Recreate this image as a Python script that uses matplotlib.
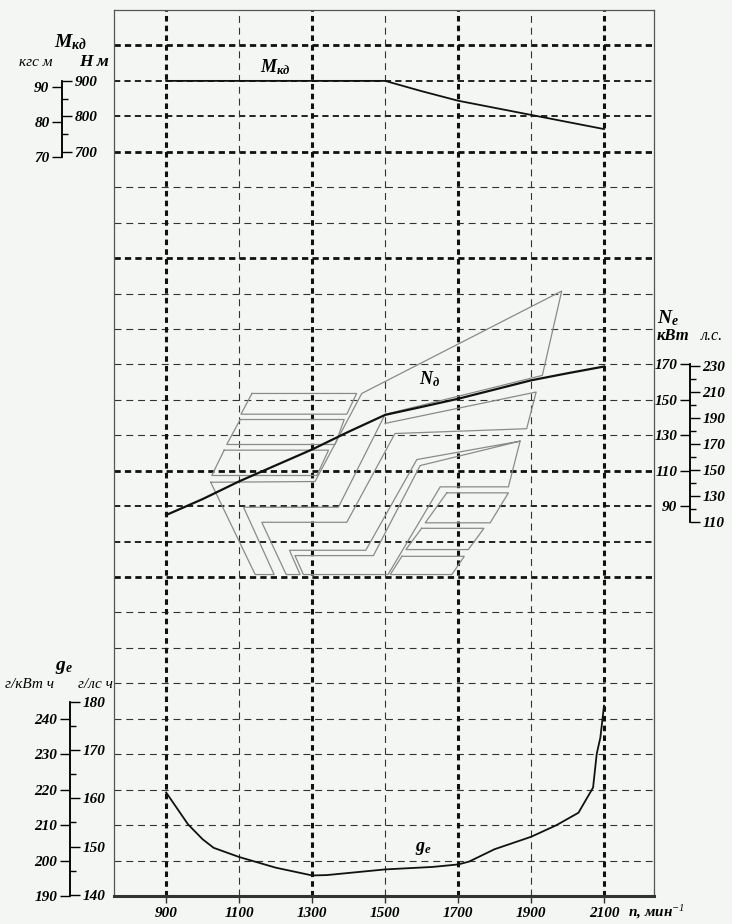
import numpy as np
import matplotlib
matplotlib.use('Agg')
import matplotlib.pyplot as plt

plt.rcParams['font.family'] = ['Liberation Serif', 'DejaVu Serif']
plt.rcParams['mathtext.fontset'] = 'custom'
plt.rcParams['mathtext.it'] = 'Liberation Serif:italic:bold'
plt.rcParams['mathtext.rm'] = 'Liberation Serif:italic'
plt.rcParams['mathtext.bf'] = 'Liberation Serif:italic:bold'
plt.rcParams['mathtext.default'] = 'it'
plt.rcParams['lines.scale_dashes'] = False

BG = '#f3f6f3'

# частота вращения, мин-1
rpm_ticks = [900, 1100, 1300, 1500, 1700, 1900, 2100]

# крутящий момент, Н м
rpm_m = [900, 1100, 1300, 1500, 1600, 1700, 1800, 1900, 2000, 2100]
m_kd = [900, 900, 900, 900, 871, 844, 824, 804, 784, 764]

# мощность, кВт
rpm_n = [900, 1000, 1100, 1200, 1300, 1400, 1500, 1600, 1700, 1800, 1900, 2000, 2100]
n_d = [85, 94, 104, 113, 122, 132, 141.5, 146, 150.6, 155.8, 161, 165, 168.8]

# удельный расход топлива, г/кВт ч
rpm_g = [900, 960, 1000, 1030, 1100, 1200, 1300, 1340, 1410, 1500, 1630, 1700,
         1730, 1800, 1900, 1970, 2030, 2070, 2080, 2090, 2100]
g_e = [219.2, 210.2, 206, 203.6, 201, 198, 195.8, 195.9, 196.6, 197.5, 198.2, 198.9,
       199.7, 203.2, 206.7, 210, 213.5, 220.6, 230.1, 234.7, 243.7]

# шкалы
m_nm_ticks = [700, 800, 900]
m_kgs_ticks = [70, 80, 90]
n_kw_ticks = [90, 110, 130, 150, 170]
n_hp_ticks = [110, 130, 150, 170, 190, 210, 230]
g_kw_ticks = [190, 200, 210, 220, 230, 240]
g_hp_ticks = [140, 150, 160, 170, 180]

# эмблема (в координатах мин-1 / кВт)
logo_closed = [
    [(1135, 153.6), (1422, 153.6), (1395, 141.9), (1105, 141.9)],
    [(1103, 138.9), (1388, 138.9), (1363, 124.8), (1066, 124.8)],
    [(1059, 121.6), (1345, 121.6), (1313, 107.3), (1025, 107.3)],
    [(1669, 97.5), (1838, 97.5), (1788, 80.6), (1610, 80.6)],
    [(1600, 77.5), (1771, 77.5), (1728, 65.5), (1557, 65.5)],
    [(1546, 61.7), (1717, 61.7), (1683, 51.4), (1514, 51.4)],
    [(1022, 103.5), (1308, 103.9), (1436, 153.6), (1984, 211.4), (1931, 163.8),
     (1500, 141.8), (1372, 89.4), (1112, 89.4), (1196, 51.4), (1144, 51.4)],
]
logo_open = [
    [(1500, 136.7), (1914, 154.4), (1888, 133.7), (1527, 131), (1395, 80.9),
     (1162, 80.9), (1229, 51.4), (1267, 51.4), (1238, 65.1), (1447, 65.1),
     (1587, 116.3), (1870, 126.7), (1838, 100.9), (1651, 100.9), (1508, 51.4),
     (1276, 51.4), (1253, 62.1), (1468, 62.1), (1596, 112.9), (1870, 126.7)],
]

KGS = 9.80665
HP = 1.35962

W, H = 732, 924
fig = plt.figure(figsize=(W / 100, H / 100), dpi=100, facecolor=BG)
L, R, B, T = 114 / W, 654 / W, 28 / H, 1 - 10 / H
ax = fig.add_axes([L, B, R - L, T - B], facecolor=BG)
ax.set_xlim(757, 2237)
ax.set_ylim(0, 25)

heavy = {24, 21, 18, 12, 9}
medium = {23, 22, 11, 10}
for k in range(1, 25):
    if k in heavy:
        ax.axhline(k, color='#111', lw=2.0, dashes=(4.5, 3.0), zorder=1)
    elif k in medium:
        ax.axhline(k, color='#222', lw=1.4, dashes=(4.5, 3.0), zorder=1)
    else:
        ax.axhline(k, color='#333', lw=0.8, dashes=(5, 3.5), zorder=1)
for i, r in enumerate(rpm_ticks):
    if i % 2 == 0:
        ax.axvline(r, color='#111', lw=2.2, dashes=(4.0, 3.0), zorder=1)
    else:
        ax.axvline(r, color='#333', lw=0.8, dashes=(5, 3.5), zorder=1)

for s in ['left', 'top', 'right']:
    ax.spines[s].set_color('#555')
    ax.spines[s].set_linewidth(0.9)
ax.spines['bottom'].set_color('#333')
ax.spines['bottom'].set_linewidth(2.2)
ax.set_yticks([])
ax.set_xticks(rpm_ticks)
ax.set_xticklabels([str(v) for v in rpm_ticks], fontsize=11,
                   fontstyle='italic', fontweight='bold')
ax.tick_params(axis='x', length=5, width=1.0, color='#333', pad=3)
fig.text(628 / W, 1 - 912 / H, r'$n$, мин$^{-1}$', fontsize=11, fontstyle='italic',
         fontweight='bold', va='center', ha='left')


def overlay(ylim):
    a = ax.twinx()
    a.set_ylim(*ylim)
    a.set_yticks([])
    for s in a.spines.values():
        s.set_visible(False)
    return a


axM = overlay((-1400, 1100))
axN = overlay((-130, 370))
axG = overlay((190, 440))

for poly in logo_closed:
    xs = [p[0] for p in poly] + [poly[0][0]]
    ys = [p[1] for p in poly] + [poly[0][1]]
    axN.plot(xs, ys, color='#8a8a8a', lw=0.9, zorder=2)
for poly in logo_open:
    axN.plot([p[0] for p in poly], [p[1] for p in poly], color='#8a8a8a', lw=0.9, zorder=2)

axM.plot(rpm_m, m_kd, color='#111', lw=1.3, zorder=3)
axN.plot(rpm_n, n_d, color='#111', lw=1.6, zorder=3)
axG.plot(rpm_g, g_e, color='#111', lw=1.3, zorder=3)

axM.text(1199, 940, r'$M_{кд}$', fontsize=13, ha='center', va='center')
axN.text(1623, 161.5, r'$N_{д}$', fontsize=13, ha='center', va='center')
axG.text(1604, 203.3, r'$g_e$', fontsize=13, ha='center', va='center')


def scale(xpx, ylim, k, left_ticks, right_ticks, lo, hi, right_minor=None):
    # левая шкала в своих единицах, правая = левая * k
    a = fig.add_axes([xpx / W, B, 0.0001, T - B])
    a.patch.set_visible(False)
    a.set_xticks([])
    a.set_ylim(*ylim)
    for s in ['top', 'bottom', 'right']:
        a.spines[s].set_visible(False)
    a.spines['left'].set_bounds(lo, hi)
    a.spines['left'].set_linewidth(1.1)
    a.set_yticks(left_ticks)
    a.set_yticklabels([str(v) for v in left_ticks], fontsize=11,
                      fontstyle='italic', fontweight='bold')
    a.tick_params(axis='y', length=7, width=1.0, pad=2)
    b = a.twinx()
    b.set_ylim(ylim[0] * k, ylim[1] * k)
    for s in ['top', 'bottom', 'left']:
        b.spines[s].set_visible(False)
    b.spines['right'].set_bounds(lo * k, hi * k)
    b.spines['right'].set_linewidth(1.1)
    b.set_yticks(right_ticks)
    b.set_yticklabels([str(v) for v in right_ticks], fontsize=11,
                      fontstyle='italic', fontweight='bold')
    b.tick_params(axis='y', length=7, width=1.0, pad=2)
    if right_minor is not None:
        b.set_yticks(right_minor, minor=True)
        b.tick_params(axis='y', which='minor', length=4, width=1.0)
    return a, b


# М: слева кгс м, справа Н м
scale(62, (-1400 / KGS, 1100 / KGS), KGS, m_kgs_ticks, m_nm_ticks, 70, 900 / KGS,
      right_minor=[750, 850])
# N: слева кВт, справа л.с.
scale(690, (-130, 370), HP, n_kw_ticks, n_hp_ticks, 80.9, 170,
      right_minor=[120, 140, 160, 180, 200, 220])
# g: слева г/кВт ч, справа г/лс ч
scale(70, (190, 440), 1 / HP, g_kw_ticks, g_hp_ticks, 190, 244.7,
      right_minor=[145, 155, 165, 175])

tkw = dict(fontstyle='italic', ha='center', va='center')
fig.text(70 / W, 1 - 42 / H, r'$M_{кд}$', fontsize=14, **tkw)
fig.text(36 / W, 1 - 62 / H, 'кгс м', fontsize=11, **tkw)
fig.text(94 / W, 1 - 62 / H, 'Н м', fontsize=12.5, fontweight='bold', **tkw)
fig.text(668 / W, 1 - 318 / H, r'$N_e$', fontsize=14, **tkw)
fig.text(673 / W, 1 - 336 / H, 'кВт', fontsize=12, fontweight='bold', **tkw)
fig.text(712 / W, 1 - 336 / H, 'л.с.', fontsize=11.5, **tkw)
fig.text(64 / W, 1 - 668 / H, r'$g_e$', fontsize=14, **tkw)
fig.text(30 / W, 1 - 685 / H, 'г/кВт ч', fontsize=11, **tkw)
fig.text(95 / W, 1 - 685 / H, 'г/лс ч', fontsize=11, **tkw)

fig.savefig('out.png', dpi=100, facecolor=BG)
